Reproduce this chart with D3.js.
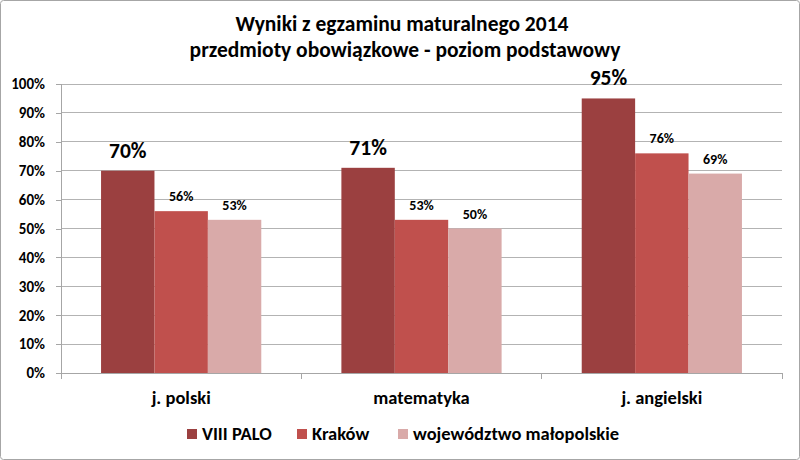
<!DOCTYPE html>
<html>
<head>
<meta charset="utf-8">
<script src="https://cdn.jsdelivr.net/npm/d3@7"></script>
<style>
  body { margin: 0; background: #fff; }
  svg { display: block; font-family: Carlito, Calibri, Lato, "Open Sans", sans-serif; font-weight: bold; }
</style>
</head>
<body>
<svg id="chart" width="800" height="460"></svg>
<script>
// Chart data
const subjects = ["j. polski", "matematyka", "j. angielski"];
const seriesNames = ["VIII PALO", "Kraków", "województwo małopolskie"];
const palo = [0.70, 0.71, 0.95];
const krakow = [0.56, 0.53, 0.76];
const wojewodztwo = [0.53, 0.50, 0.69];
const yTicks = [0, 0.1, 0.2, 0.3, 0.4, 0.5, 0.6, 0.7, 0.8, 0.9, 1.0];

const colors = ["#9b4040", "#c0504d", "#d9aaa9"];
const seriesValues = [palo, krakow, wojewodztwo];

const svg = d3.select("#chart");
const W = 800, H = 460;
const margin = { top: 84, right: 18, bottom: 87, left: 61 };
const plotW = W - margin.left - margin.right;
const plotH = H - margin.top - margin.bottom;

// outer frame
svg.append("rect")
  .attr("x", 0.5).attr("y", 0.5)
  .attr("width", W - 1).attr("height", H - 1)
  .attr("rx", 3)
  .attr("fill", "#fff").attr("stroke", "#a6a6a6");

// title
const title = svg.append("text")
  .attr("text-anchor", "middle")
  .attr("font-size", 21.5)
  .attr("fill", "#000");
title.append("tspan").attr("x", 402).attr("y", 31).text("Wyniki z egzaminu maturalnego 2014");
title.append("tspan").attr("x", 405).attr("y", 57).text("przedmioty obowiązkowe - poziom podstawowy");

const g = svg.append("g").attr("transform", `translate(${margin.left},${margin.top})`);

const x0 = d3.scaleBand().domain(subjects).range([0, plotW]).paddingInner(0).paddingOuter(0);
const groupPad = x0.bandwidth() / 6;
const x1 = d3.scaleBand().domain(d3.range(seriesNames.length))
  .range([groupPad, x0.bandwidth() - groupPad]);
const y = d3.scaleLinear().domain([0, 1]).range([plotH, 0]);

// gridlines
g.append("g")
  .selectAll("line")
  .data(yTicks.slice(1))
  .join("line")
  .attr("x1", 0).attr("x2", plotW)
  .attr("y1", d => y(d)).attr("y2", d => y(d))
  .attr("stroke", "#b3b3b3").attr("stroke-width", 1)
  .attr("shape-rendering", "crispEdges");

// y axis
const yAxis = g.append("g")
  .call(d3.axisLeft(y).tickValues(yTicks).tickFormat(d3.format(".0%")).tickSize(5).tickPadding(11));
yAxis.select(".domain").attr("stroke", "#a6a6a6");
yAxis.selectAll(".tick line").attr("stroke", "#a6a6a6");
yAxis.selectAll(".tick text").attr("font-size", 15).attr("fill", "#000")
  .attr("font-family", "Carlito, Calibri, Lato, sans-serif").attr("font-weight", "bold");
yAxis.attr("shape-rendering", "crispEdges");

// bars
const groups = g.append("g")
  .selectAll("g")
  .data(subjects)
  .join("g")
  .attr("transform", d => `translate(${x0(d)},0)`);

groups.selectAll("rect")
  .data((d, i) => seriesValues.map((s, k) => ({ k, v: s[i] })))
  .join("rect")
  .attr("x", d => x1(d.k))
  .attr("width", x1.bandwidth())
  .attr("y", d => y(d.v))
  .attr("height", d => plotH - y(d.v))
  .attr("fill", d => colors[d.k]);

// value labels
groups.selectAll("text.val")
  .data((d, i) => seriesValues.map((s, k) => ({ k, v: s[i] })))
  .join("text")
  .attr("class", "val")
  .attr("text-anchor", "middle")
  .attr("x", d => x1(d.k) + x1.bandwidth() / 2)
  .attr("y", d => y(d.v) - (d.k === 0 ? 13 : 10))
  .attr("font-size", d => d.k === 0 ? 21.5 : 14)
  .attr("fill", "#000")
  .text(d => d3.format(".0%")(d.v));

// x axis
const xAxis = g.append("g").attr("transform", `translate(0,${plotH})`);
xAxis.append("line")
  .attr("x1", 0).attr("x2", plotW)
  .attr("stroke", "#a6a6a6").attr("shape-rendering", "crispEdges");
xAxis.selectAll("line.tk")
  .data(subjects.map(d => x0(d)).concat([plotW]))
  .join("line")
  .attr("class", "tk")
  .attr("x1", d => d).attr("x2", d => d)
  .attr("y1", 0).attr("y2", 6)
  .attr("stroke", "#a6a6a6").attr("shape-rendering", "crispEdges");
xAxis.selectAll("text")
  .data(subjects)
  .join("text")
  .attr("text-anchor", "middle")
  .attr("x", d => x0(d) + x0.bandwidth() / 2)
  .attr("y", 31)
  .attr("font-size", 18.5)
  .attr("fill", "#000")
  .text(d => d);

// legend
const legendX = [187, 297, 398];
const legend = svg.append("g")
  .selectAll("g")
  .data(seriesNames)
  .join("g")
  .attr("transform", (d, i) => `translate(${legendX[i]},429)`);
legend.append("rect")
  .attr("width", 10).attr("height", 10)
  .attr("fill", (d, i) => colors[i]);
legend.append("text")
  .attr("x", 15).attr("y", 11)
  .attr("font-size", 18.5)
  .attr("fill", "#000")
  .text(d => d);
</script>
</body>
</html>
